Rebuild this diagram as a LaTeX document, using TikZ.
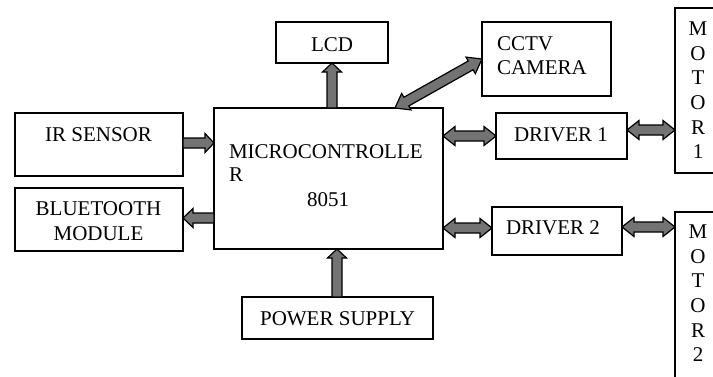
\documentclass[tikz,border=0pt]{standalone}
\usepackage{fontspec}
\setmainfont{Liberation Serif}
\usetikzlibrary{calc}
\newcommand\fatarrow[4]{%
  \path let \p1=(#2), \p2=(#3) in \pgfextra{%
    \pgfmathsetmacro\fa{atan2(\y2-\y1,\x2-\x1)}%
    \pgfmathsetmacro\fl{veclen(\x2-\x1,\y2-\y1)}%
    \xdef\FA{\fa}\xdef\FL{\fl}};
  \ifnum#1=1
    \draw[fat, shift={(#2)}, rotate=\FA] (0pt,-5pt) -- ({\FL pt-#4},-5pt) -- ({\FL pt-#4},-9.5pt) -- (\FL pt,0pt) -- ({\FL pt-#4},9.5pt) -- ({\FL pt-#4},5pt) -- (0pt,5pt) -- cycle;
  \else
    \draw[fat, shift={(#2)}, rotate=\FA] (0pt,0pt) -- (#4,9.5pt) -- (#4,5pt) -- ({\FL pt-#4},5pt) -- ({\FL pt-#4},9.5pt) -- (\FL pt,0pt) -- ({\FL pt-#4},-9.5pt) -- ({\FL pt-#4},-5pt) -- (#4,-5pt) -- (#4,-9.5pt) -- cycle;
  \fi}
\begin{document}
\begin{tikzpicture}[x=1pt,y=-1pt,
  box/.style={draw, line width=1.6pt, anchor=north west, inner sep=0pt, outer sep=0pt},
  lbl/.style={font=\fontsize{21}{24.6}\selectfont, inner sep=0pt, outer sep=0pt},
  fat/.style={fill=black!55, draw=black, line width=1.2pt, line join=miter}]
\useasboundingbox (0,0) rectangle (713,376);
\clip (0,0) rectangle (713,376);
\fill[white] (0,0) rectangle (713,376);
% boxes
\node[box, minimum width=112pt, minimum height=41pt] (lcd) at (276,22) {};
\node[box, minimum width=168pt, minimum height=63pt] (ir) at (15,113) {};
\node[box, minimum width=229pt, minimum height=141pt] (mcu) at (214,108) {};
\node[box, minimum width=168pt, minimum height=63pt] (bt) at (15,188) {};
\node[box, minimum width=191pt, minimum height=42pt] (ps) at (242,297) {};
\node[box, minimum width=129pt, minimum height=74pt] (cctv) at (482,22) {};
\node[box, minimum width=131pt, minimum height=46pt] (d1) at (496,113) {};
\node[box, minimum width=130pt, minimum height=48pt] (d2) at (492,207) {};
\node[box, minimum width=70pt, minimum height=165pt] (m1) at (675,8) {};
\node[box, minimum width=70pt, minimum height=200pt] (m2) at (675,212) {};
% texts
\node[lbl, anchor=base] (tlcd) at (332,51) {LCD};
\node[lbl, anchor=base] (tir) at (98.5,141.5) {IR SENSOR};
\node[lbl, anchor=base west] (tmc1) at (229,158) {MICROCONTROLLE};
\node[lbl, anchor=base west] (tmc2) at (229,181.5) {R};
\node[lbl, anchor=base] (tmc3) at (328,206.5) {8051};
\node[lbl, anchor=base west] (tcc1) at (497,50) {CCTV};
\node[lbl, anchor=base west] (tcc2) at (497,74) {CAMERA};
\node[lbl, anchor=base] (td1) at (561,141.5) {DRIVER 1};
\node[lbl, anchor=base] (td2) at (553,234) {DRIVER 2};
\node[lbl, anchor=base] (tbt1) at (98.5,215) {BLUETOOTH};
\node[lbl, anchor=base] (tbt2) at (98.5,240) {MODULE};
\node[lbl, anchor=base] (tps) at (337.5,325.5) {POWER SUPPLY};
\node[lbl, anchor=north, align=center] (tm1) at (698,22) {M\\O\\T\\O\\R\\1};
\node[lbl, anchor=north, align=center] (tm2) at (698,225) {M\\O\\T\\O\\R\\2};
% arrow end points
\coordinate (ira) at (ir.east |- 0,143);   \coordinate (irb) at (mcu.west |- 0,143);
\coordinate (lca) at (mcu.north -| 332,0); \coordinate (lcb) at (lcd.south -| 332,0);
\coordinate (bta) at (mcu.west |- 0,218);  \coordinate (btb) at (bt.east |- 0,218);
\coordinate (psa) at (ps.north -| 337,0);  \coordinate (psb) at (mcu.south -| 337,0);
\coordinate (cca) at (mcu.north -| 395,0); \coordinate (ccb) at (cctv.west |- 0,59);
\coordinate (d1a) at (mcu.east |- 0,136);  \coordinate (d1b) at (d1.west |- 0,136);
\coordinate (m1a) at (d1.east |- 0,130);   \coordinate (m1b) at (m1.west |- 0,130);
\coordinate (d2a) at (mcu.east |- 0,228);  \coordinate (d2b) at (d2.west |- 0,228);
\coordinate (m2a) at (d2.east |- 0,227);   \coordinate (m2b) at (m2.west |- 0,227);
% arrows
\fatarrow{1}{ira}{irb}{9pt}
\fatarrow{1}{lca}{lcb}{9pt}
\fatarrow{1}{bta}{btb}{10pt}
\fatarrow{1}{psa}{psb}{9pt}
\fatarrow{2}{cca}{ccb}{13pt}
\fatarrow{2}{d1a}{d1b}{12pt}
\fatarrow{2}{m1a}{m1b}{12pt}
\fatarrow{2}{d2a}{d2b}{12pt}
\fatarrow{2}{m2a}{m2b}{12pt}
\end{tikzpicture}
\end{document}
